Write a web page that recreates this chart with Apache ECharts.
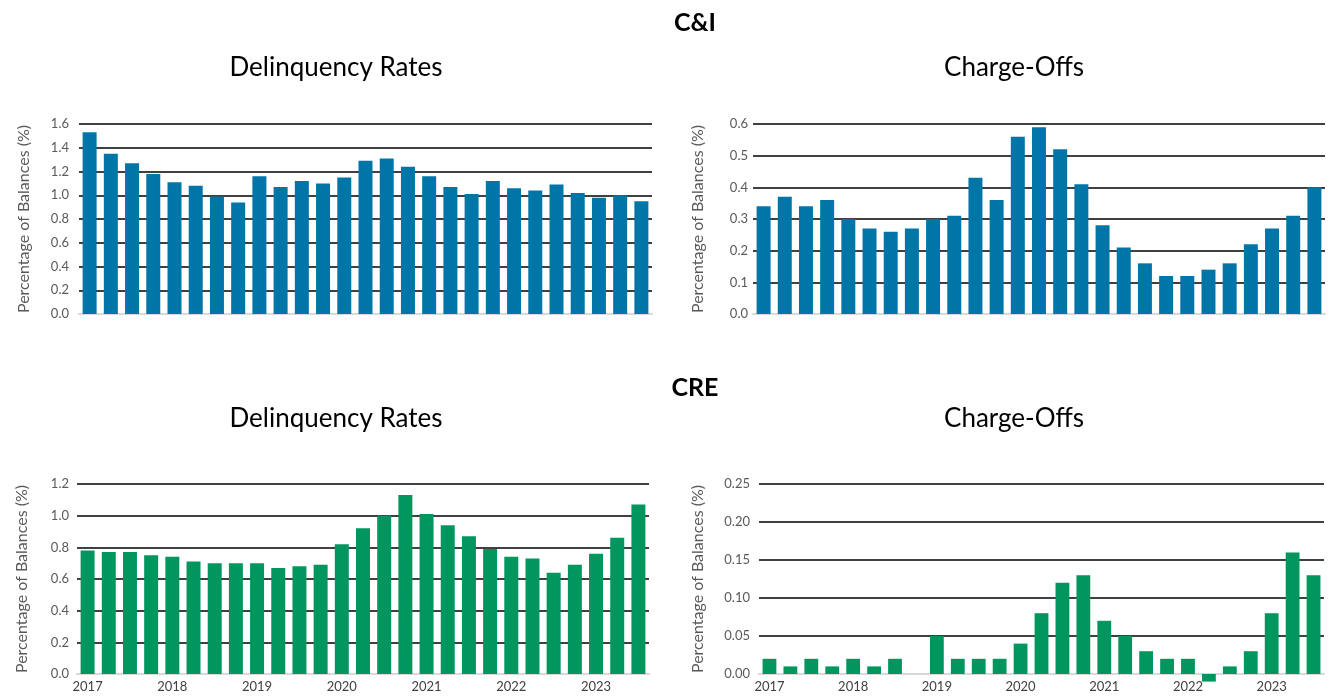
<!DOCTYPE html>
<html>
<head>
<meta charset="utf-8">
<script src="https://cdn.jsdelivr.net/npm/echarts@6/dist/echarts.min.js"></script>
<style>
	html, body { margin: 0; padding: 0; background: #fff; }
	#main { width: 1331px; height: 696px; }
</style>
</head>
<body>
<div id="main"></div>
<script>
// quarters, 2017 Q1 .. 2023 Q3
var quarters = [
	'2017 Q1', '2017 Q2', '2017 Q3', '2017 Q4',
	'2018 Q1', '2018 Q2', '2018 Q3', '2018 Q4',
	'2019 Q1', '2019 Q2', '2019 Q3', '2019 Q4',
	'2020 Q1', '2020 Q2', '2020 Q3', '2020 Q4',
	'2021 Q1', '2021 Q2', '2021 Q3', '2021 Q4',
	'2022 Q1', '2022 Q2', '2022 Q3', '2022 Q4',
	'2023 Q1', '2023 Q2', '2023 Q3'
];

// C&I
var ciDelinquency = [1.53, 1.35, 1.27, 1.18, 1.11, 1.08, 0.99, 0.94, 1.16, 1.07, 1.12, 1.10, 1.15, 1.29,
	1.31, 1.24, 1.16, 1.07, 1.01, 1.12, 1.06, 1.04, 1.09, 1.02, 0.98, 1.00, 0.95];
var ciChargeOffs = [0.34, 0.37, 0.34, 0.36, 0.30, 0.27, 0.26, 0.27, 0.30, 0.31, 0.43, 0.36, 0.56, 0.59,
	0.52, 0.41, 0.28, 0.21, 0.16, 0.12, 0.12, 0.14, 0.16, 0.22, 0.27, 0.31, 0.40];

// CRE
var creDelinquency = [0.78, 0.77, 0.77, 0.75, 0.74, 0.71, 0.70, 0.70, 0.70, 0.67, 0.68, 0.69, 0.82, 0.92,
	1.00, 1.13, 1.01, 0.94, 0.87, 0.79, 0.74, 0.73, 0.64, 0.69, 0.76, 0.86, 1.07];
var creChargeOffs = [0.02, 0.01, 0.02, 0.01, 0.02, 0.01, 0.02, 0, 0.05, 0.02, 0.02, 0.02, 0.04, 0.08,
	0.12, 0.13, 0.07, 0.05, 0.03, 0.02, 0.02, -0.01, 0.01, 0.03, 0.08, 0.16, 0.13];

var blue = '#0076a8';
var green = '#00965e';
var font = 'Lato, "Noto Sans", sans-serif';

var chart = echarts.init(document.getElementById('main'));

function makeX(idx, showLabels) {
	return {
		type: 'category',
		gridIndex: idx,
		data: quarters,
		axisTick: { show: false },
		axisLine: { lineStyle: { color: '#d9d9d9', width: 2 } },
		axisLabel: {
			show: showLabels,
			interval: 3,
			margin: 6,
			color: '#404040',
			fontSize: 13,
			fontFamily: font,
			formatter: function(v) { return v.slice(0, 4); }
		}
	};
}

function makeY(idx, max, interval, digits, gap, margin) {
	return {
		type: 'value',
		gridIndex: idx,
		min: 0,
		max: max,
		interval: interval,
		name: 'Percentage of Balances (%)',
		nameLocation: 'middle',
		nameGap: gap,
		nameTextStyle: { color: '#595959', fontSize: 16, fontFamily: font },
		axisLine: { show: false },
		axisTick: { show: false },
		axisLabel: {
			color: '#595959',
			fontSize: 13,
			fontFamily: font,
			margin: margin,
			formatter: function(v) { return v.toFixed(digits); }
		},
		splitLine: { lineStyle: { color: '#404040', width: 2 } }
	};
}

function makeBar(idx, data, color) {
	return {
		type: 'bar',
		xAxisIndex: idx,
		yAxisIndex: idx,
		data: data,
		barCategoryGap: '34%',
		clip: false,
		itemStyle: { color: color },
		silent: true
	};
}

var titleStyle = { color: '#000', fontSize: 26, fontWeight: 'normal', fontFamily: font };
var headStyle = { color: '#000', fontSize: 25, fontWeight: 'bold', fontFamily: font };

option = {
	animation: false,
	title: [
		{ text: 'C&I', left: 690, top: 5, textAlign: 'center', textStyle: headStyle },
		{ text: 'Delinquency Rates', left: 331, top: 50, textAlign: 'center', textStyle: titleStyle },
		{ text: 'Charge-Offs', left: 1009, top: 50, textAlign: 'center', textStyle: titleStyle },
		{ text: 'CRE', left: 690, top: 370, textAlign: 'center', textStyle: headStyle },
		{ text: 'Delinquency Rates', left: 331, top: 401, textAlign: 'center', textStyle: titleStyle },
		{ text: 'Charge-Offs', left: 1009, top: 401, textAlign: 'center', textStyle: titleStyle }
	],
	grid: [
		{ left: 79, top: 124, width: 573, height: 190 },
		{ left: 753, top: 124, width: 572, height: 190 },
		{ left: 77, top: 484, width: 572, height: 190 },
		{ left: 759, top: 484, width: 565, height: 190 }
	],
	xAxis: [
		makeX(0, false),
		makeX(1, false),
		makeX(2, true),
		makeX(3, true)
	],
	yAxis: [
		makeY(0, 1.6, 0.2, 1, 47, 10),
		makeY(1, 0.6, 0.1, 1, 47, 5),
		makeY(2, 1.2, 0.2, 1, 47, 8),
		makeY(3, 0.25, 0.05, 2, 53, 9)
	],
	series: [
		makeBar(0, ciDelinquency, blue),
		makeBar(1, ciChargeOffs, blue),
		makeBar(2, creDelinquency, green),
		makeBar(3, creChargeOffs, green)
	]
};

chart.setOption(option);
</script>
</body>
</html>
